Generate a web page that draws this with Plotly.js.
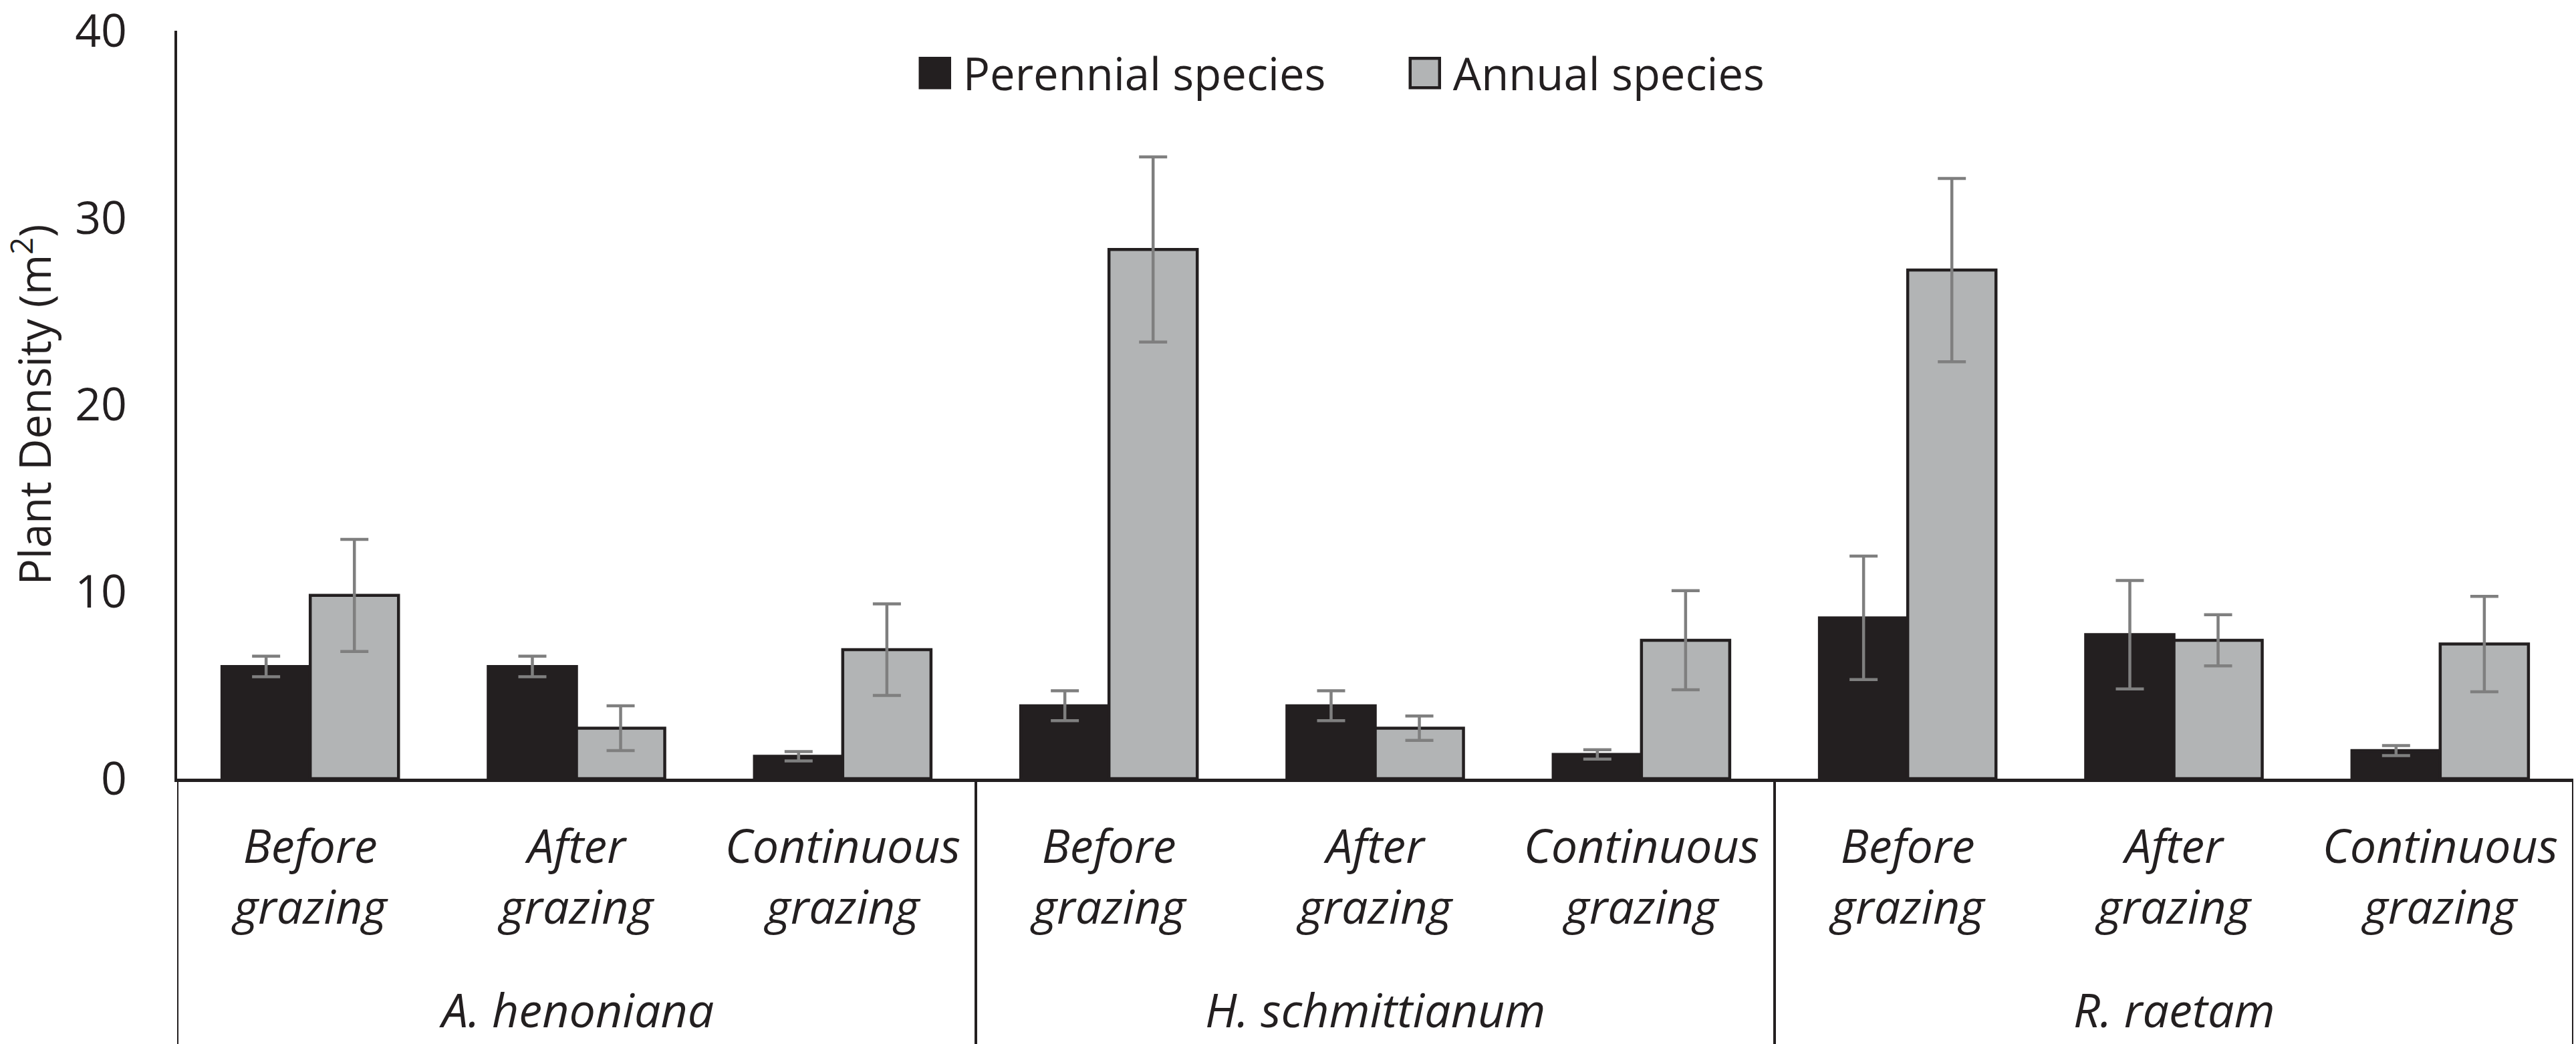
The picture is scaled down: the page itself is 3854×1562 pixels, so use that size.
<!DOCTYPE html>
<html>
<head>
<meta charset="utf-8">
<script src="https://cdn.plot.ly/plotly-3.0.1.min.js"></script>
<style>
  body { margin: 0; background: #fff; }
  #graphic_densidad { width: 3854px; height: 1562px; }
</style>
</head>
<body>
<div id="graphic_densidad"></div>
<script>
const species = ["A. henoniana", "H. schmittianum", "R. raetam"];
const treatments = ["Before<br>grazing", "After<br>grazing", "Continuous<br>grazing"];

const perennial = [6.0, 6.0, 1.2, 3.9, 3.9, 1.3, 8.6, 7.7, 1.5];
const perennialErr = [0.55, 0.55, 0.25, 0.8, 0.8, 0.25, 3.3, 2.9, 0.27];
const annual = [9.8, 2.7, 6.9, 28.3, 2.7, 7.4, 27.2, 7.4, 7.2];
const annualErr = [3.0, 1.2, 2.45, 4.95, 0.65, 2.65, 4.9, 1.37, 2.55];

const yTicks = [0, 10, 20, 30, 40];

const Grafico = {
    ink: "#231f20",
    labelDepth: -0.3548,
    positions: () => {
        let pos = [];
        let text = [];
        species.forEach((s, i) => {
            treatments.forEach((t, j) => {
                pos.push(i * treatments.length + j);
                text.push(t);
            });
        });
        return { pos: pos, text: text };
    },
    barTrace: (name, values, errors, fill) => {
        return {
            type: "bar",
            name: name,
            x: Grafico.positions().pos,
            y: values,
            marker: { color: fill, line: { color: Grafico.ink, width: 4.5 } },
            error_y: { type: "data", array: errors, visible: true, color: "#7f7f7f", thickness: 4.5, width: 21 },
            hoverinfo: "y"
        };
    },
    // group separators and species names under the treatment labels
    groupDecor: () => {
        let n = treatments.length;
        let shapes = [];
        let annotations = [];
        for (let i = 0; i <= species.length; i++) {
            shapes.push({
                type: "line", xref: "x", yref: "paper",
                x0: i * n - 0.5, x1: i * n - 0.5, y0: 0, y1: Grafico.labelDepth,
                line: { color: Grafico.ink, width: 4 }
            });
        }
        species.forEach((s, i) => {
            annotations.push({
                text: s, xref: "x", yref: "paper",
                x: i * n + (n - 1) / 2, y: -0.3083,
                xanchor: "center", yanchor: "middle", showarrow: false,
                font: { size: 70, style: "italic" }
            });
        });
        return { shapes: shapes, annotations: annotations };
    },
    print: (html_id) => {
        let data = [
            Grafico.barTrace("Perennial species", perennial, perennialErr, Grafico.ink),
            Grafico.barTrace("Annual species", annual, annualErr, "#b2b4b5")
        ];
        let ticks = Grafico.positions();
        let decor = Grafico.groupDecor();
        let layout = {
            width: 3854,
            height: 1562,
            margin: { l: 265, r: 4, t: 46, b: 397 },
            paper_bgcolor: "#fff",
            plot_bgcolor: "#fff",
            font: { family: "Open Sans", color: Grafico.ink, size: 68 },
            barmode: "group",
            bargap: 0.337,
            bargroupgap: 0,
            showlegend: true,
            legend: {
                orientation: "h",
                x: 0.509, xanchor: "center",
                y: 0.943, yanchor: "middle",
                font: { size: 67 },
                itemwidth: 74,
                entrywidth: 644,
                bgcolor: "rgba(0,0,0,0)"
            },
            xaxis: {
                range: [-0.5, ticks.pos.length - 0.5],
                tickvals: ticks.pos,
                ticktext: ticks.text,
                showline: true,
                linecolor: Grafico.ink,
                linewidth: 5,
                showgrid: false,
                zeroline: false,
                ticks: "",
                ticklabelstandoff: 37,
                tickfont: { size: 70, style: "italic" }
            },
            yaxis: {
                range: [0, 40],
                tickvals: yTicks,
                showline: true,
                linecolor: Grafico.ink,
                linewidth: 4.5,
                showgrid: false,
                zeroline: false,
                ticks: "",
                ticklabelstandoff: 57,
                ticklabeloverflow: "allow",
                tickfont: { size: 68 },
                title: { text: "Plant Density (m<sup>2</sup>)", font: { size: 65 }, standoff: 41 }
            },
            shapes: decor.shapes,
            annotations: decor.annotations
        };
        Plotly.newPlot(html_id, data, layout, { staticPlot: true }).then(gd => {
            // make the legend squares as big as in the figure
            gd.querySelectorAll(".legend .legendpoints path").forEach(p => p.setAttribute("d", "M22,22H-22V-22H22Z"));
        });
    }
};

Grafico.print("graphic_densidad");
</script>
</body>
</html>
